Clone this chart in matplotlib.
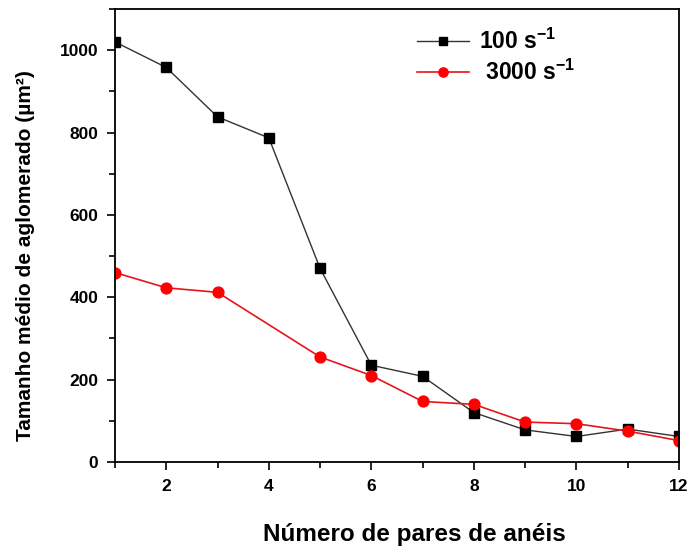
import numpy as np
import matplotlib.pyplot as plt
from matplotlib.ticker import MultipleLocator

plt.rcParams["font.family"] = ["Liberation Sans", "DejaVu Sans"]
plt.rcParams["mathtext.fontset"] = "custom"
plt.rcParams["mathtext.rm"] = "Liberation Sans"
plt.rcParams["mathtext.bf"] = "Liberation Sans:bold"

# 100 s-1
x_100 = [1, 2, 3, 4, 5, 6, 7, 8, 9, 10, 11, 12]
y_100 = [1020, 958, 838, 787, 470, 235, 208, 120, 78, 62, 80, 62]

# 3000 s-1 (sem ponto em 4)
x_3000 = [1, 2, 3, 5, 6, 7, 8, 9, 10, 11, 12]
y_3000 = [460, 423, 412, 255, 210, 147, 140, 97, 93, 75, 52]

fig = plt.figure(figsize=(6.9, 5.51), dpi=100)
ax = fig.add_axes([0.1667, 0.1615, 0.8173, 0.8222])

ax.plot(x_100, y_100, color="#333333", lw=1.0, marker="s", ms=7.5,
        mfc="black", mec="black", label="100 s$^{\\mathbf{-1}}$")
ax.plot(x_3000, y_3000, color="#e8141c", lw=1.2, marker="o", ms=7.8,
        mfc="#ff0000", mec="#ff0000", label=" 3000 s$^{\\mathbf{-1}}$")

ax.set_xlim(1, 12)
ax.set_ylim(0, 1100)
ax.xaxis.set_major_locator(MultipleLocator(2))
ax.xaxis.set_minor_locator(MultipleLocator(1))
ax.yaxis.set_minor_locator(MultipleLocator(100))
ax.set_yticks([0, 200, 400, 600, 800, 1000])

ax.tick_params(which="major", direction="out", length=6, width=1.2,
               labelsize=12.5, pad=6)
ax.tick_params(which="minor", direction="out", length=4, width=1.2)
for lab in ax.get_xticklabels() + ax.get_yticklabels():
    lab.set_fontweight("bold")
for sp in ax.spines.values():
    sp.set_linewidth(1.3)

ax.set_xlabel("Número de pares de anéis", fontsize=17.5, fontweight="bold")
ax.set_ylabel("Tamanho médio de aglomerado (µm²)", fontsize=15,
              fontweight="bold")
ax.xaxis.set_label_coords(0.53, -0.135, transform=ax.transAxes)
ax.yaxis.set_label_coords(-0.142, 0.455, transform=ax.transAxes)

leg = ax.legend(loc="upper left", bbox_to_anchor=(0.574, 0.985),
                bbox_transform=fig.transFigure, frameon=False,
                prop={"size": 16.5, "weight": "bold"}, handlelength=2.27,
                handletextpad=0.44, labelspacing=0.25, markerscale=0.85)

fig.savefig("out.png", dpi=100)
